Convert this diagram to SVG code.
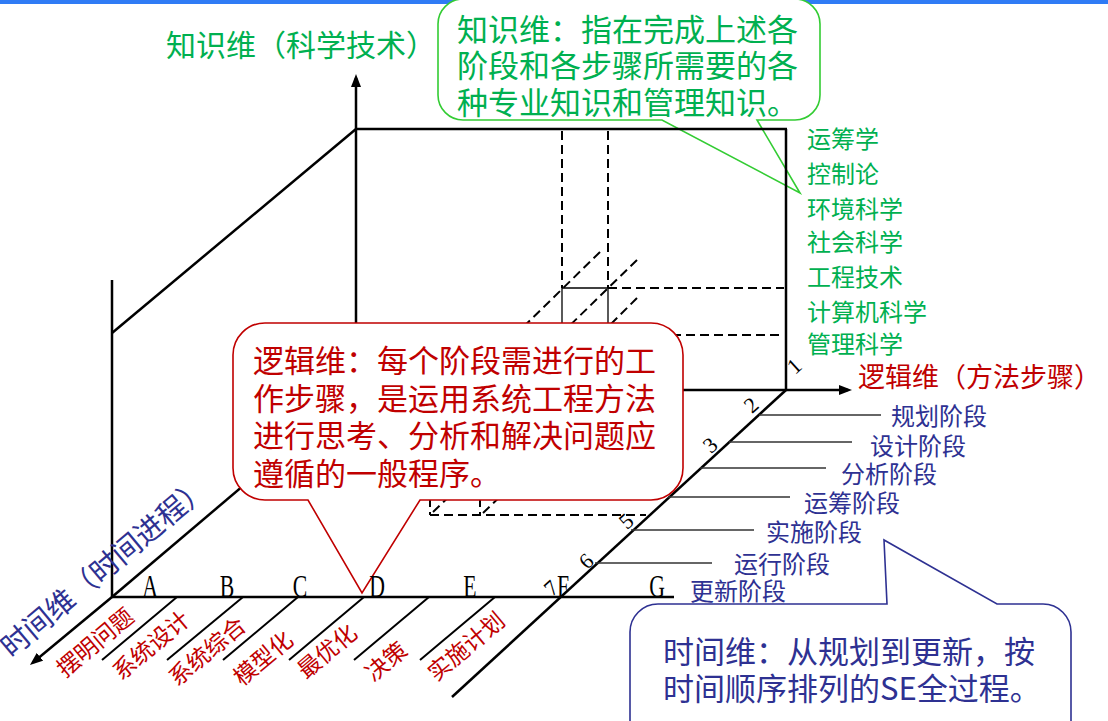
<svg xmlns="http://www.w3.org/2000/svg" width="1108" height="721" viewBox="0 0 1108 721">
<style>
.cjk{font-family:"Noto Sans CJK SC","Noto Sans",sans-serif}
.ser{font-family:"Liberation Serif",serif}
.ax{stroke:#000;stroke-width:2.5;fill:none}
.th{stroke:#000;stroke-width:2;fill:none}
.dash{stroke:#000;stroke-width:2;fill:none;stroke-dasharray:9 5}
.thin{stroke:#000;stroke-width:1.3;fill:none}
.stg{stroke:#333;stroke-width:1.6;fill:none}
.grn{fill:#00B050}
.red{fill:#C00000}
.blu{fill:#2E3192}
.dig{font-family:"Liberation Serif",serif;font-size:22px;fill:#000}
.let{font-family:"Liberation Serif",serif;font-size:32px;fill:#000}
</style>
<defs>
<marker id="arr" markerUnits="userSpaceOnUse" markerWidth="14" markerHeight="10" refX="9" refY="5" orient="auto">
<path d="M0,0 L13,5 L0,10 Z" fill="#000"/>
</marker>
</defs>
<rect id="topbar" x="0" y="0" width="1108" height="4" fill="#2F7BF5"/>

<g id="callout-knowledge">
<path d="M463,-1 H795 A25,25 0 0 1 820,24 V95 A25,25 0 0 1 795,120 H757 L800,193 L662,120 H463 A25,25 0 0 1 438,95 V24 A25,25 0 0 1 463,-1 Z" fill="#fff" stroke="#33CC33" stroke-width="1.6"/>
<g class="cjk grn" font-size="31" dominant-baseline="central">
<text x="457" y="27">知识维：指在完成上述各</text>
<text x="457" y="63">阶段和各步骤所需要的各</text>
<text x="457" y="100">种专业知识和管理知识。</text>
</g>
</g>

<g id="connectors">
<!-- knowledge axis and frame -->
<line class="ax" x1="356" y1="390" x2="356" y2="78" marker-end="url(#arr)"/>
<line class="ax" x1="356" y1="129" x2="787" y2="129"/>
<line class="ax" x1="786" y1="129" x2="786" y2="390"/>
<line class="ax" x1="356" y1="129" x2="112" y2="333"/>
<line class="ax" x1="112" y1="280" x2="112" y2="597"/>
<!-- logic axis -->
<line class="ax" x1="356" y1="390" x2="848" y2="390" marker-end="url(#arr)"/>
<!-- time axis -->
<line class="ax" x1="356" y1="390" x2="112" y2="597"/>
<line class="ax" x1="112" y1="597" x2="33" y2="662.5" marker-end="url(#arr)"/>
<line class="ax" x1="112" y1="597" x2="674" y2="597"/>
<line class="ax" x1="786" y1="390" x2="452" y2="697"/>
<!-- tick lines below time axis -->
<g class="th">
<line x1="177" y1="597" x2="102" y2="660"/>
<line x1="243" y1="597" x2="167" y2="660"/>
<line x1="298" y1="597" x2="223" y2="660"/>
<line x1="364" y1="597" x2="289" y2="660"/>
<line x1="429" y1="597" x2="354" y2="660"/>
<line x1="495" y1="597" x2="420" y2="660"/>
</g>
<!-- stage lines -->
<g class="stg">
<line x1="759" y1="415" x2="881" y2="415"/>
<line x1="729" y1="442" x2="852" y2="442"/>
<line x1="700" y1="468" x2="826" y2="468"/>
<line x1="668" y1="497" x2="790" y2="497"/>
<line x1="631" y1="530" x2="754" y2="530"/>
<line x1="595" y1="563" x2="712" y2="563"/>
</g>
<!-- tick 1 on knowledge edge -->
<!-- dashed projection lines -->
<g class="dash">
<line x1="562" y1="131" x2="562" y2="288"/>
<line x1="608" y1="131" x2="608" y2="288"/>
<line x1="608" y1="288" x2="784" y2="288"/>
<line x1="560" y1="335" x2="784" y2="335"/>
<line x1="600" y1="252" x2="510" y2="340"/>
<line x1="637" y1="260" x2="560" y2="335"/>
<line x1="637" y1="298" x2="600" y2="335"/>
<line x1="430" y1="515" x2="646" y2="515"/>
<line x1="430" y1="470" x2="430" y2="515"/>
<line x1="480" y1="470" x2="480" y2="515"/>
<line x1="433" y1="512" x2="475" y2="472"/>
<line x1="483" y1="513" x2="525" y2="473"/>
</g>
<g class="thin">
<line x1="562" y1="288" x2="608" y2="288"/>
<line x1="562" y1="288" x2="562" y2="340"/>
<line x1="608" y1="288" x2="608" y2="340"/>
</g>
</g>

<g id="callout-logic">
<path d="M265,323 H651 A32,32 0 0 1 683,355 V468 A32,32 0 0 1 651,500 H420 L362,593 L308,500 H265 A32,32 0 0 1 233,468 V355 A32,32 0 0 1 265,323 Z" fill="#fff" stroke="#C00000" stroke-width="1.6"/>
<g class="cjk red" font-size="31" dominant-baseline="central">
<text x="253" y="358">逻辑维：每个阶段需进行的工</text>
<text x="253" y="396">作步骤，是运用系统工程方法</text>
<text x="253" y="433">进行思考、分析和解决问题应</text>
<text x="253" y="471">遵循的一般程序。</text>
</g>
</g>

<g id="callout-time">
<path d="M658,604 H887 L884,540 L997,604 H1043 A28,28 0 0 1 1071,632 V740 H630 V632 A28,28 0 0 1 658,604 Z" fill="#fff" stroke="#2E3192" stroke-width="1.6"/>
<g class="cjk blu" font-size="31" dominant-baseline="central">
<text x="663" y="649">时间维：从规划到更新，按</text>
<text x="663" y="686">时间顺序排列的SE全过程。</text>
</g>
</g>

<g id="label-knowledge-axis">
<text class="cjk grn" x="166" y="43" font-size="30" dominant-baseline="central">知识维（科学技术）</text>
</g>
<g id="label-logic-axis">
<text class="cjk red" x="858" y="375" font-size="27" dominant-baseline="central">逻辑维（方法步骤）</text>
</g>
<g id="label-time-axis">
<text class="cjk blu" x="103" y="565" font-size="29" text-anchor="middle" dominant-baseline="central" transform="rotate(-40 103 565)">时间维（时间进程）</text>
</g>

<g id="knowledge-list" class="cjk grn" font-size="24" dominant-baseline="central">
<text x="807" y="137">运筹学</text>
<text x="807" y="172">控制论</text>
<text x="807" y="207">环境科学</text>
<text x="807" y="240">社会科学</text>
<text x="807" y="275">工程技术</text>
<text x="807" y="310">计算机科学</text>
<text x="807" y="342">管理科学</text>
</g>

<g id="stage-labels" class="cjk blu" font-size="24" dominant-baseline="central">
<text x="891" y="414">规划阶段</text>
<text x="870" y="444">设计阶段</text>
<text x="841" y="472">分析阶段</text>
<text x="804" y="501">运筹阶段</text>
<text x="766" y="530">实施阶段</text>
<text x="734" y="562">运行阶段</text>
<text x="690" y="589">更新阶段</text>
</g>

<g id="step-labels" class="cjk red" font-size="23" text-anchor="middle" dominant-baseline="central">
<text x="94" y="641" transform="rotate(-40 94 641)">摆明问题</text>
<text x="150" y="644" transform="rotate(-40 150 644)">系统设计</text>
<text x="206" y="650" transform="rotate(-40 206 650)">系统综合</text>
<text x="262" y="657" transform="rotate(-40 262 657)">模型化</text>
<text x="326" y="650" transform="rotate(-40 326 650)">最优化</text>
<text x="385" y="660" transform="rotate(-40 385 660)">决策</text>
<text x="465" y="645" transform="rotate(-40 465 645)">实施计划</text>
</g>

<g id="letters" text-anchor="middle">
<text class="let" transform="translate(150,597) scale(0.68,1)">A</text>
<text class="let" transform="translate(227,597) scale(0.68,1)">B</text>
<text class="let" transform="translate(300,597) scale(0.68,1)">C</text>
<text class="let" transform="translate(377,597) scale(0.68,1)">D</text>
<text class="let" transform="translate(470,597) scale(0.68,1)">E</text>
<text class="let" transform="translate(563,597) scale(0.68,1)">F</text>
<text class="let" transform="translate(657,597) scale(0.68,1)">G</text>
</g>

<g id="digits" text-anchor="middle" dominant-baseline="central">
<text class="dig" x="794" y="366" transform="rotate(-42 794 366)">1</text>
<text class="dig" x="751" y="405" transform="rotate(-42 751 405)">2</text>
<text class="dig" x="710" y="445" transform="rotate(-42 710 445)">3</text>
<text class="dig" x="626" y="521" transform="rotate(-42 626 521)">5</text>
<text class="dig" x="586" y="561" transform="rotate(-42 586 561)">6</text>
<text class="dig" x="551" y="588" transform="rotate(-42 551 588)">7</text>
</g>
</svg>
